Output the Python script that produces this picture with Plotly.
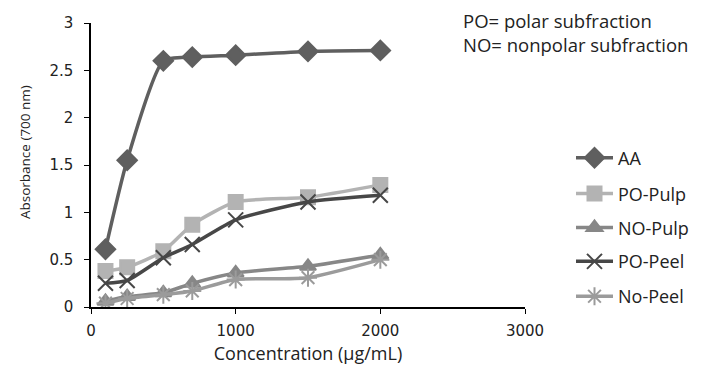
import plotly.graph_objects as go

conc = [100, 250, 500, 700, 1000, 1500, 2000]
names = ["AA", "PO-Pulp", "NO-Pulp", "PO-Peel", "No-Peel"]
aa = [0.61, 1.55, 2.60, 2.64, 2.66, 2.70, 2.71]
po_pulp = [0.38, 0.42, 0.59, 0.87, 1.11, 1.16, 1.29]
no_pulp = [0.06, 0.11, 0.15, 0.25, 0.36, 0.43, 0.55]
po_peel = [0.25, 0.28, 0.52, 0.66, 0.92, 1.11, 1.18]
no_peel = [0.04, 0.09, 0.13, 0.17, 0.29, 0.31, 0.50]
series = [aa, po_pulp, no_pulp, po_peel, no_peel]

colors = ["#5f5f5f", "#b3b3b3", "#878787", "#474747", "#9b9b9b"]
symbols = ["diamond", "square", "triangle-up", "x-thin", "asterisk"]
msizes = [15, 14, 14, 15, 15]

font = "Open Sans"
tickfont = "DejaVu Sans"

# plot-area pixel geometry (figure coords; page adds 8px body margin)
L, R, T, B = 83, 185, 14.5, 67.5
W, H = 702, 367
ph = H - T - B
pw = W - L - R

fig = go.Figure()
leg_fig_y = [150, 186, 220, 254, 289]
for i, (n, ys) in enumerate(zip(names, series)):
    lname = "legend" if i == 0 else f"legend{i+1}"
    mk = dict(symbol=symbols[i], size=msizes[i], color=colors[i],
              line=dict(color=colors[i], width=2))
    fig.add_trace(go.Scatter(
        x=conc, y=ys, name=n, mode="lines+markers",
        line=dict(color=colors[i], width=3.5, shape="spline", smoothing=0.6),
        marker=mk, legend=lname))

layout_legends = {}
for i in range(5):
    lname = "legend" if i == 0 else f"legend{i+1}"
    layout_legends[lname] = dict(
        x=(563 - L) / pw, xref="paper",
        y=(H - B - leg_fig_y[i]) / ph, yref="paper",
        xanchor="left", yanchor="middle",
        font=dict(family=font, size=18, color="#222"),
        bgcolor="rgba(0,0,0,0)", itemwidth=37)

fig.update_layout(
    width=W, height=H,
    margin=dict(l=L, r=R, t=T, b=B, autoexpand=False),
    paper_bgcolor="white", plot_bgcolor="white",
    font=dict(family=font, size=14, color="#222"),
    showlegend=True,
    xaxis=dict(range=[0, 3000], tickvals=[0, 1000, 2000, 3000],
               showgrid=False, zeroline=False, showline=True,
               linecolor="black", linewidth=1.5, ticks="outside",
               ticklen=5, tickcolor="black", ticklabelstandoff=4,
               automargin=False,
               tickfont=dict(family=tickfont, size=15, color="#222"),
               title=dict(text="Concentration (µg/mL)", standoff=9,
                          font=dict(family=font, size=18, color="#222"))),
    yaxis=dict(range=[0, 3], tickvals=[0, 0.5, 1, 1.5, 2, 2.5, 3],
               ticktext=["0", "0.5", "1", "1.5", "2", "2.5", "3"],
               showgrid=False, zeroline=False, showline=True,
               linecolor="black", linewidth=1.5, ticks="outside",
               ticklen=5, tickcolor="black", ticklabelstandoff=8,
               automargin=False,
               tickfont=dict(family=tickfont, size=15, color="#222")),
    **layout_legends,
)
# y-axis title (placed slightly above the axis centre, as in the reference)
fig.add_annotation(x=(17 - L) / pw, y=(H - B - 144) / ph, xref="paper", yref="paper",
                   xanchor="center", yanchor="middle", showarrow=False,
                   textangle=-90, text="Absorbance (700 nm)",
                   font=dict(family=font, size=13.5, color="#222"))
fig.add_annotation(x=(461 - 8 - L) / pw, y=(H - B - 24.5) / ph, xref="paper", yref="paper",
                   xanchor="left", yanchor="middle", showarrow=False, align="left",
                   text="PO= polar subfraction<br>NO= nonpolar subfraction",
                   font=dict(family=font, size=18.5, color="#222"))
fig.write_html("out.html")
